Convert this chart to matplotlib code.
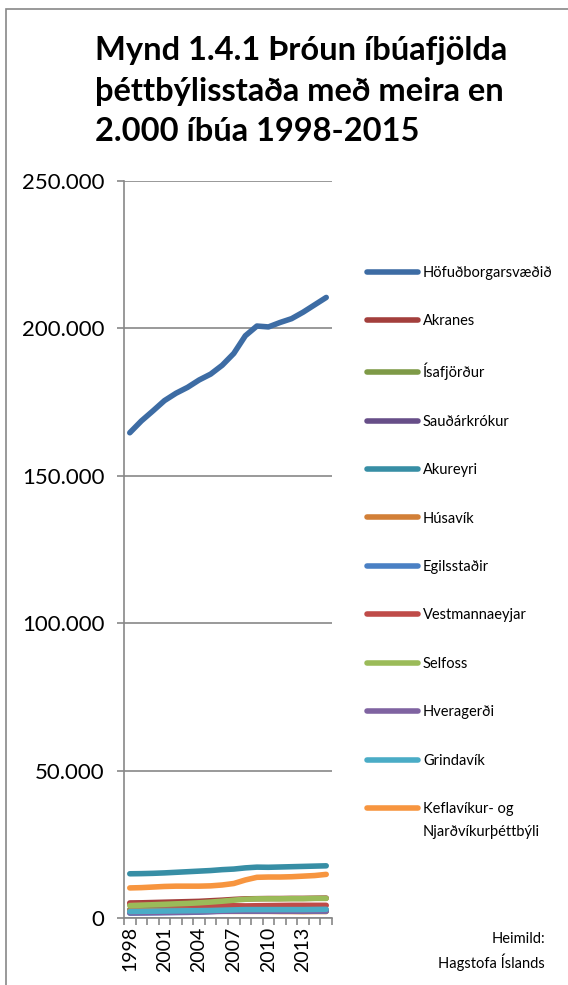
import matplotlib
matplotlib.use("Agg")
import matplotlib.pyplot as plt
from matplotlib.ticker import FuncFormatter, FixedLocator
from matplotlib.patches import Rectangle

years = list(range(1998, 2016))

hofudborg = [164600, 168600, 172000, 175500, 178000, 180000, 182500, 184500, 187500,
             191500, 197500, 200800, 200500, 202000, 203300, 205500, 208000, 210500]
akranes = [5100, 5150, 5250, 5350, 5450, 5550, 5650, 5850, 6050, 6300, 6500, 6550,
           6600, 6600, 6650, 6650, 6700, 6750]
isafjordur = [2850, 2800, 2750, 2700, 2700, 2650, 2650, 2650, 2600, 2600, 2600, 2650,
              2650, 2600, 2550, 2550, 2600, 2600]
saudarkrokur = [2600, 2600, 2580, 2560, 2550, 2550, 2580, 2600, 2600, 2620, 2620, 2640,
                2600, 2590, 2580, 2580, 2600, 2600]
akureyri = [15000, 15050, 15150, 15300, 15500, 15700, 15900, 16100, 16400, 16600,
            17000, 17250, 17200, 17300, 17400, 17500, 17600, 17700]
husavik = [2500, 2450, 2450, 2400, 2350, 2350, 2300, 2300, 2300, 2250, 2250, 2250,
           2250, 2200, 2200, 2150, 2200, 2200]
egilsstadir = [1650, 1700, 1750, 1800, 1850, 1900, 2000, 2200, 2400, 2500, 2350, 2300,
               2300, 2300, 2300, 2300, 2300, 2350]
vestmannaeyjar = [4650, 4600, 4550, 4500, 4450, 4400, 4300, 4250, 4200, 4150, 4100,
                  4150, 4200, 4250, 4300, 4300, 4300, 4300]
selfoss = [4200, 4350, 4500, 4650, 4800, 4950, 5150, 5400, 5700, 6050, 6350, 6500,
           6500, 6500, 6550, 6550, 6650, 6650]
hveragerdi = [1800, 1800, 1850, 1900, 1950, 2000, 2050, 2150, 2250, 2300, 2350, 2350,
              2300, 2300, 2300, 2350, 2350, 2400]
grindavik = [2200, 2250, 2300, 2350, 2400, 2450, 2500, 2550, 2650, 2750, 2850, 2850,
             2850, 2850, 2850, 2850, 2900, 2950]
keflavik = [10200, 10300, 10500, 10700, 10800, 10800, 10800, 10900, 11200, 11700,
            12900, 13800, 13900, 13900, 14000, 14200, 14400, 14800]

series_names = ["Höfuðborgarsvæðið", "Akranes", "Ísafjörður", "Sauðárkrókur", "Akureyri",
                "Húsavík", "Egilsstaðir", "Vestmannaeyjar", "Selfoss", "Hveragerði",
                "Grindavík", "Keflavíkur- og"]
last_label_line2 = "Njarðvíkurþéttbýli"
series_values = [hofudborg, akranes, isafjordur, saudarkrokur, akureyri, husavik,
                 egilsstadir, vestmannaeyjar, selfoss, hveragerdi, grindavik, keflavik]
series_colors = ["#3D6CA4", "#A33F3C", "#7E9A47", "#674E88", "#378EA5", "#D27F37",
                 "#4A80C4", "#BF4B48", "#9BBB59", "#7F63A1", "#4AACC6", "#F7953F"]

y_ticks = [0, 50000, 100000, 150000, 200000, 250000]
x_label_years = [1998, 2001, 2004, 2007, 2010, 2013]

title = "Mynd 1.4.1 Þróun íbúafjölda\nþéttbýlisstaða með meira en\n2.000 íbúa 1998-2015"
source = "Heimild:\nHagstofa Íslands"

plt.rcParams['font.family'] = ['Lato', 'DejaVu Sans']
W, H = 568, 985
fig = plt.figure(figsize=(W / 100, H / 100), dpi=100)

# outer border
fig.patches.append(Rectangle((6 / W, -0.1), 1.2, 1 - 9 / H + 0.1, transform=fig.transFigure,
                             fill=False, edgecolor="#888888", linewidth=1.2))

left, right, top, bottom = 124, 332, 181, 918
ax = fig.add_axes([left / W, 1 - bottom / H, (right - left) / W, (bottom - top) / H])

grid_col = "#878787"
lines = []
for name, vals, col in zip(series_names, series_values, series_colors):
    ln, = ax.plot(years, vals, color=col, linewidth=4.0, solid_capstyle="round",
                  solid_joinstyle="round", label=name)
    lines.append(ln)

ax.set_xlim(1997.5, 2015.5)
ax.set_ylim(0, 250000)
ax.yaxis.set_major_locator(FixedLocator(y_ticks))
ax.yaxis.set_major_formatter(FuncFormatter(lambda v, p: f"{int(v):,}".replace(",", ".")))
ax.grid(axis="y", color=grid_col, linewidth=1.2)
ax.set_axisbelow(True)
for s in ["top", "right"]:
    ax.spines[s].set_visible(False)
for s in ["left", "bottom"]:
    ax.spines[s].set_color(grid_col)
    ax.spines[s].set_linewidth(1.2)

ax.xaxis.set_major_locator(FixedLocator(x_label_years))
ax.xaxis.set_minor_locator(FixedLocator([y - 0.5 for y in years] + [years[-1] + 0.5]))
ax.tick_params(axis="x", which="major", length=0, pad=6, labelsize=14, rotation=90,
               labelcolor="black")
ax.tick_params(axis="x", which="minor", length=5, width=1.2, color=grid_col, direction="out")
ax.tick_params(axis="y", which="major", length=5, width=1.2, color=grid_col, pad=9,
               labelsize=16)

fig.text(95 / W, 1 - 36 / H, title, fontsize=23.5, fontweight="bold", va="top", ha="left",
         linespacing=1.48)

leg = fig.legend(handles=lines, loc="upper left", bbox_to_anchor=(367 / W, 1 - 266 / H),
                 frameon=False, fontsize=10.5, handlelength=3.5, handletextpad=0.34,
                 labelspacing=2.36, borderaxespad=0, borderpad=0)

fig.canvas.draw()
last_txt = leg.get_texts()[-1]
bb = last_txt.get_window_extent()
fig.text(bb.x0 / W * (100 / fig.dpi), (bb.y0 - 23) / H * (100 / fig.dpi),
         last_label_line2, fontsize=10.5, ha="left", va="bottom")

fig.text(545 / W, 1 - 932 / H, source, fontsize=10.5, ha="right", va="top", linespacing=1.5)

fig.savefig("out.png", dpi=100)
